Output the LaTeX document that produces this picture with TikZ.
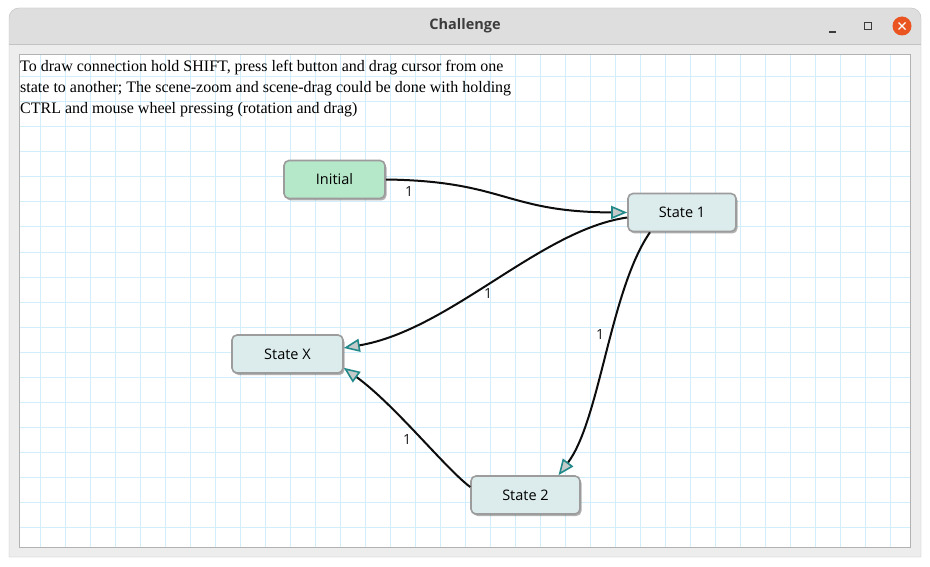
\documentclass[tikz,border=0pt]{standalone}
\usepackage{fontspec}
\setmainfont{Liberation Serif}
\newfontfamily\uifont{Open Sans}
\usepackage{tikz}
\usetikzlibrary{arrows.meta,shadows}

\definecolor{gridblue}{HTML}{D2EEFA}
\definecolor{winbody}{HTML}{EDEDED}
\definecolor{titlebar}{HTML}{DEDEDE}
\definecolor{winedge}{HTML}{C2C2C2}
\definecolor{canvasedge}{HTML}{B2B2B2}
\definecolor{initfill}{HTML}{B5E7C9}
\definecolor{statefill}{HTML}{DCEBEB}
\definecolor{nodeedge}{HTML}{9C9C9C}
\definecolor{tipteal}{HTML}{22898A}
\definecolor{tipfill}{HTML}{C4CACA}
\definecolor{closered}{HTML}{E95420}
\definecolor{titletext}{HTML}{3C3C3C}

\begin{document}
\begin{tikzpicture}[x=1pt,y=-1pt,
  >={Triangle[length=16pt,width=13pt,line width=1.6pt,color=tipteal,fill=tipfill]},
  statebox/.style={rectangle,rounded corners=5pt,draw=nodeedge,line width=1.6pt,
    fill=statefill,minimum width=108pt,minimum height=38pt,
    font=\uifont\fontsize{14.5}{16}\selectfont,
    drop shadow={shadow xshift=1.5pt,shadow yshift=-2pt,opacity=.3,fill=black}},
  trans/.style={->,line width=2pt,black!95},
  weight/.style={font=\uifont\fontsize{14}{16}\selectfont,text=black!90,inner sep=1pt},
  gridline/.style={gridblue,line width=1pt}]

  \fill[white] (0,0) rectangle (930,567);
  \useasboundingbox (0,0) rectangle (930,567);

  % window frame and title bar
  \fill[winbody] (9,557) -- (9,18) arc[start angle=180,end angle=90,radius=10pt]
    -- (911,8) arc[start angle=90,end angle=0,radius=10pt] -- (921,557) -- cycle;
  \fill[titlebar] (9,44) -- (9,18) arc[start angle=180,end angle=90,radius=10pt]
    -- (911,8) arc[start angle=90,end angle=0,radius=10pt] -- (921,44) -- cycle;
  \draw[winedge] (9,557) -- (9,18) arc[start angle=180,end angle=90,radius=10pt]
    -- (911,8) arc[start angle=90,end angle=0,radius=10pt] -- (921,557) -- cycle;
  \draw[winedge] (9,44) -- (921,44);
  \node[font=\uifont\bfseries\fontsize{14.5}{16}\selectfont,text=titletext] (title) at (465,26) {Challenge};
  \draw[titletext,line width=1.2pt] (829,32) -- (836,32);
  \draw[titletext,line width=1.2pt] (864.5,22.5) rectangle (871.5,29.5);
  \fill[closered] (902,26) circle (9.5pt);
  \draw[white,line width=1.2pt] (898.5,22.5) -- (905.5,29.5) (898.5,29.5) -- (905.5,22.5);

  % scene with grid
  \fill[white] (19.5,54.5) rectangle (910.5,547);
  \foreach \x in {40,65,...,890}
    \draw[gridline] (\x,55) -- (\x,546.5);
  \foreach \y in {77,102,...,527}
    \draw[gridline] (20,\y) -- (910,\y);
  \draw[canvasedge] (19.5,54.5) rectangle (910.5,547);

  \node[anchor=north west,inner sep=0pt,align=left,font=\fontsize{16}{20.7}\selectfont] (hint) at (20,60.5)
    {To draw connection hold SHIFT, press left button and drag cursor from one\\
     state to another; The scene-zoom and scene-drag could be done with holding\\
     CTRL and mouse wheel pressing (rotation and drag)};

  % states
  \node[statebox,fill=initfill,minimum width=101pt] (init) at (334.5,179.5) {Initial};
  \node[statebox] (s1) at (682,212.5) {State 1};
  \node[statebox,minimum width=111pt] (sx) at (287.5,354) {State X};
  \node[statebox,minimum width=109pt] (s2) at (525.5,495) {State 2};

  % transitions
  \draw[trans] (init.east) .. controls (505,181) and (505,212) .. (s1.west);
  \draw[trans] ([yshift=-5pt]s1.west) .. controls (540,230) and (450,330) .. ([yshift=6pt]sx.east);
  \draw[trans] ([xshift=-32pt]s1.south) .. controls (610,290) and (600,420) .. ([xshift=33pt]s2.north);
  \draw[trans] ([yshift=8pt]s2.west) .. controls (445,468) and (395,405) .. ([yshift=6pt]sx.south east);

  \node[weight] (w1) at (409,192) {1};
  \node[weight] (w2) at (488,294) {1};
  \node[weight] (w3) at (600,335) {1};
  \node[weight] (w4) at (407,440) {1};

\end{tikzpicture}
\end{document}
